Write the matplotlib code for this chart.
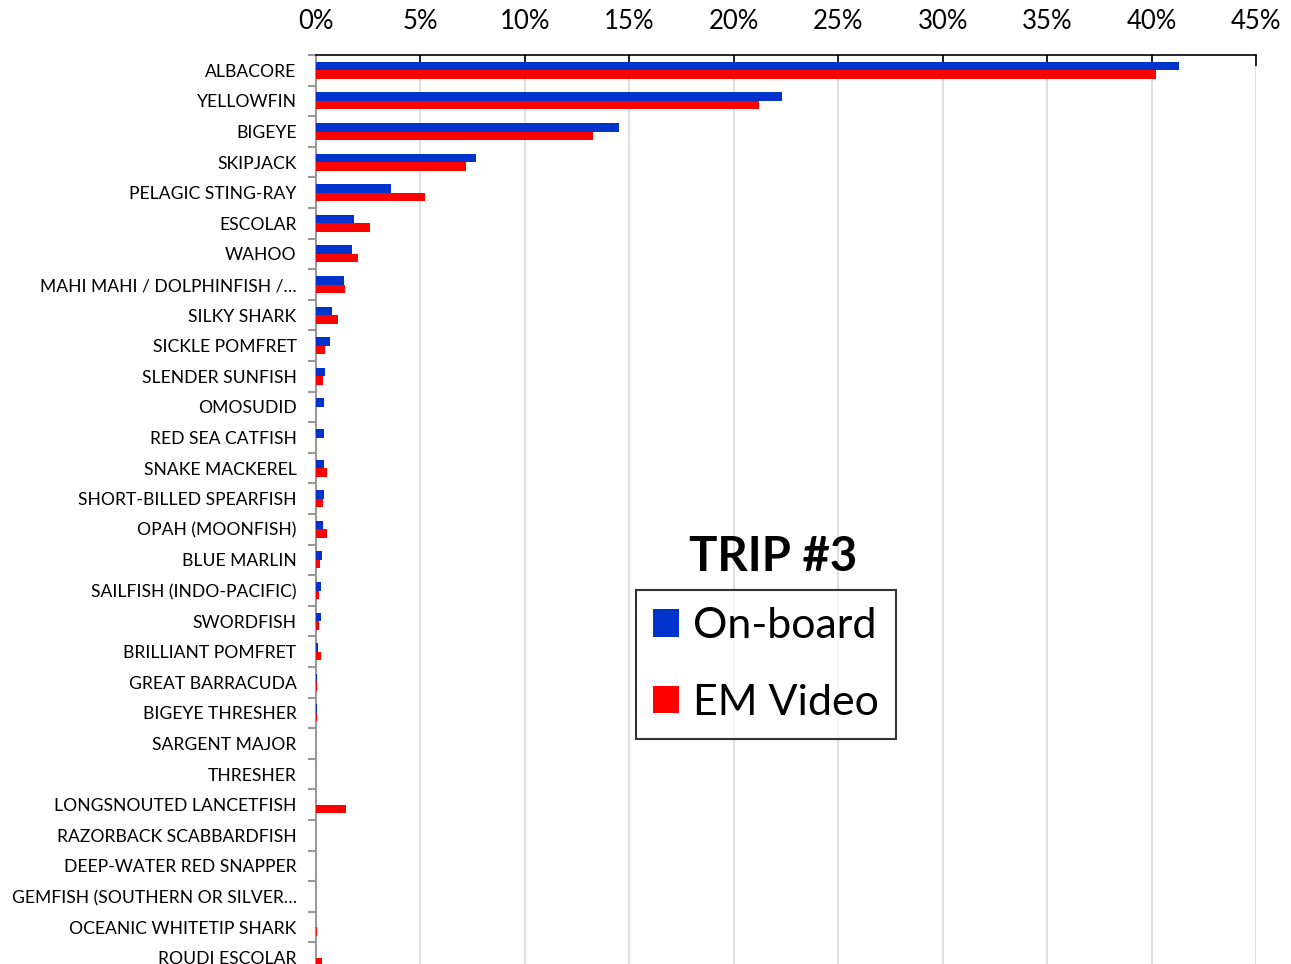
import matplotlib.pyplot as plt
import numpy as np

plt.rcParams['font.family'] = ['Lato', 'DejaVu Sans']

species = ["ALBACORE", "YELLOWFIN", "BIGEYE", "SKIPJACK", "PELAGIC STING-RAY",
           "ESCOLAR", "WAHOO", "MAHI MAHI / DOLPHINFISH /…", "SILKY SHARK",
           "SICKLE POMFRET", "SLENDER SUNFISH", "OMOSUDID", "RED SEA CATFISH",
           "SNAKE MACKEREL", "SHORT-BILLED SPEARFISH", "OPAH (MOONFISH)",
           "BLUE MARLIN", "SAILFISH (INDO-PACIFIC)", "SWORDFISH",
           "BRILLIANT POMFRET", "GREAT BARRACUDA", "BIGEYE THRESHER",
           "SARGENT MAJOR", "THRESHER", "LONGSNOUTED LANCETFISH",
           "RAZORBACK SCABBARDFISH", "DEEP-WATER RED SNAPPER",
           "GEMFISH (SOUTHERN OR SILVER…", "OCEANIC WHITETIP SHARK",
           "ROUDI ESCOLAR"]
onboard = [41.3, 22.3, 14.5, 7.65, 3.6, 1.8, 1.7, 1.35, 0.77, 0.65, 0.43,
           0.40, 0.38, 0.38, 0.37, 0.32, 0.27, 0.22, 0.22, 0.10, 0.06, 0.03,
           0.02, 0.02, 0.01, 0.01, 0.01, 0.01, 0.0, 0.0]
em_video = [40.2, 21.2, 13.25, 7.2, 5.2, 2.6, 2.0, 1.4, 1.05, 0.43, 0.33,
            0.0, 0.0, 0.53, 0.32, 0.53, 0.19, 0.16, 0.15, 0.22, 0.05, 0.03,
            0.0, 0.0, 1.43, 0.0, 0.0, 0.0, 0.03, 0.27]
xticks = [0, 5, 10, 15, 20, 25, 30, 35, 40, 45]

W, H = 1291, 964
fig = plt.figure(figsize=(W / 100, H / 100), dpi=100)
n = len(species)
step = 30.6
top_px = 55
bot_px = top_px + n * step
ax = fig.add_axes([316 / W, 1 - bot_px / H, (1256 - 316) / W, (bot_px - top_px) / H])

pos = np.arange(n)
bh = 0.28
ax.barh(pos - bh / 2, onboard, height=bh, color="#0033CC", label="On-board", zorder=3)
ax.barh(pos + bh / 2, em_video, height=bh, color="#FF0000", label="EM Video", zorder=3)

ax.set_ylim(n - 0.5, -0.5)
ax.set_xlim(0, 45)
ax.set_yticks(pos)
ax.set_yticklabels(species, fontsize=12.6)
ax.tick_params(axis='y', length=0, pad=14)
ax.set_yticks(np.arange(-0.5, n, 1), minor=True)
ax.tick_params(axis='y', which='minor', length=6, color='#999999', width=1.5)

ax.xaxis.tick_top()
ax.set_xticks(xticks)
ax.set_xticklabels([f"{t}%" for t in xticks], fontsize=18.5)
ax.tick_params(axis='x', direction='in', length=8, width=1.2, pad=15)
ax.grid(axis='x', color='#d9d9d9', linewidth=1.2, zorder=0)

ax.spines['right'].set_visible(False)
ax.spines['bottom'].set_visible(False)
ax.spines['top'].set_linewidth(1.2)
ax.spines['left'].set_color('#999999')
ax.spines['left'].set_linewidth(1.5)

leg = ax.legend(loc='upper left', bbox_to_anchor=(636 / W, 1 - 590 / H),
                bbox_transform=fig.transFigure, borderaxespad=0, fontsize=31,
                handlelength=0.6, handleheight=0.6, handletextpad=0.33,
                labelspacing=0.9, fancybox=False, edgecolor='black',
                borderpad=0.4)
leg.get_frame().set_linewidth(1.5)
fig.text(773 / W, 1 - 557 / H, "TRIP #3", fontsize=34, fontweight='bold',
         ha='center', va='center')

fig.savefig("out.png", dpi=100)
